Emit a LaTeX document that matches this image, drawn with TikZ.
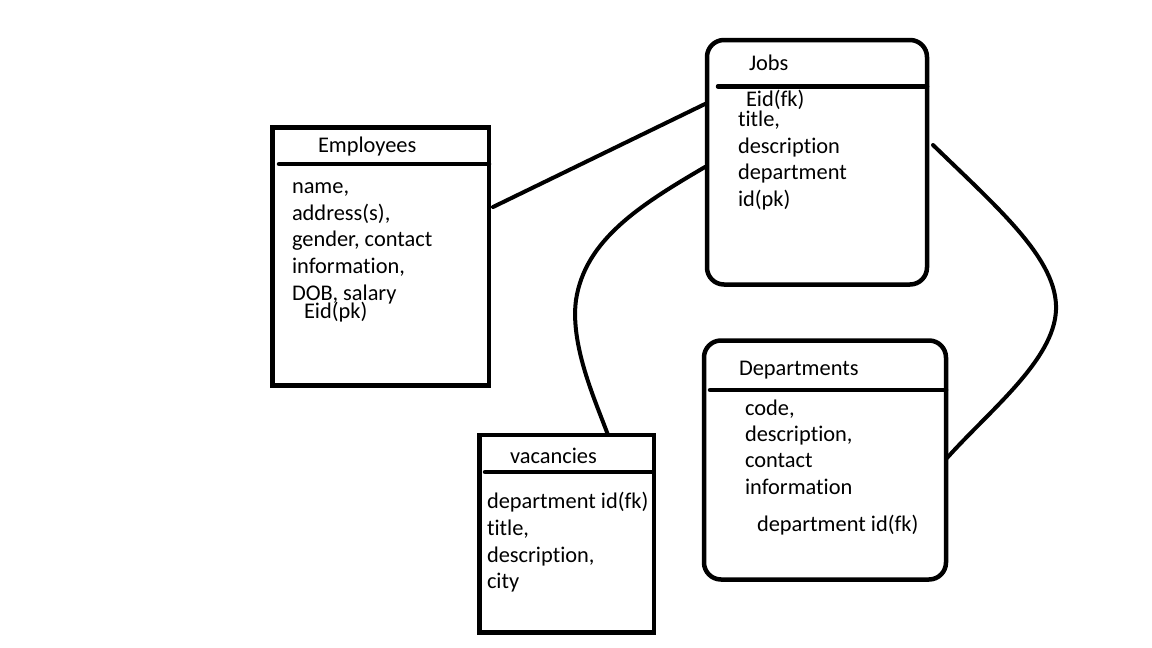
\documentclass[tikz,border=0pt]{standalone}
\usepackage{fontspec}
\setmainfont{Carlito}[Ligatures=NoCommon]
\begin{document}
\begin{tikzpicture}[x=1pt,y=-1pt,
  box/.style={draw=black, line width=4.5pt, outer sep=0pt, inner sep=0pt, anchor=north west},
  rbox/.style={box, rounded corners=17pt},
  hline/.style={line width=4.5pt, line cap=round},
  conn/.style={line width=4pt, line cap=round},
  txt/.style={inner sep=0pt, outer sep=0pt, anchor=base west, font=\fontsize{22.4}{27}\selectfont}]
\useasboundingbox (0,0) rectangle (1152,648);
\fill[white] (0,0) rectangle (1152,648);
% boxes
\node[box, minimum width=216.5pt, minimum height=258pt] (emp) at (272.5,127.5) {};
\node[rbox, minimum width=220pt, minimum height=244.5pt] (jobs) at (707,40) {};
\node[rbox, minimum width=242pt, minimum height=239pt] (dept) at (704,340.5) {};
\node[box, minimum width=174.5pt, minimum height=197.5pt] (vac) at (479.5,435) {};
% header lines
\draw[hline] ([xshift=6.5pt,yshift=-36.5pt]emp.north west) -- ([yshift=-36.5pt]emp.north east);
\draw[hline] ([xshift=11pt,yshift=-46.5pt]jobs.north west) -- ([yshift=-46.5pt]jobs.north east);
\draw[hline] ([xshift=6pt,yshift=-49.5pt]dept.north west) -- ([yshift=-49.5pt]dept.north east);
\draw[hline] ([xshift=5.5pt,yshift=-37pt]vac.north west) -- ([xshift=-2pt,yshift=-37pt]vac.north east);
% Employees text
\node[txt] (empt) at (318,152) {Employees};
\node[txt] (e1) at (292,193) {name,};
\node[txt] (e2) at (292,220) {address(s),};
\node[txt] (e3) at (292,246.5) {gender, contact};
\node[txt] (e4) at (292,273) {information,};
\node[txt] (e5) at (292,300) {DOB, salary};
\node[txt] (e6) at (304,318.5) {Eid(pk)};
% Jobs text
\node[txt] (jobst) at (749,70) {Jobs};
\node[txt] (j1) at (746,106) {Eid(fk)};
\node[txt] (j2) at (738,126.5) {title,};
\node[txt] (j3) at (738,153) {description};
\node[txt] (j4) at (738,179.5) {department};
\node[txt] (j5) at (738,206) {id(pk)};
% Departments text
\node[txt] (deptt) at (739,375) {Departments};
\node[txt] (d1) at (745,415) {code,};
\node[txt] (d2) at (745,441) {description,};
\node[txt] (d3) at (745,467.5) {contact};
\node[txt] (d4) at (745,494) {information};
\node[txt] (d5) at (757,531) {department id(fk)};
% vacancies text
\node[txt] (vact) at (510,463) {vacancies};
\node[txt] (v1) at (487,508) {department id(fk)};
\node[txt] (v2) at (487,535) {title,};
\node[txt] (v3) at (487,562) {description,};
\node[txt] (v4) at (487,588) {city};
% connectors
\draw[conn] ([xshift=4pt,yshift=-79.5pt]emp.north east) -- ([xshift=-2pt,yshift=-64pt]jobs.north west);
\draw[conn] ([xshift=-2pt,yshift=-127pt]jobs.north west)
  .. controls (640,205) and (585,240) .. (576,300)
  .. controls (570,345) and (595,400) .. ([xshift=128.5pt]vac.north west);
\draw[conn] ([xshift=6pt,yshift=-105pt]jobs.north east)
  .. controls (1000,210) and (1058,260) .. (1056,310)
  .. controls (1054,360) and (990,410) .. ([xshift=1pt,yshift=-117.5pt]dept.north east);
\end{tikzpicture}
\end{document}
